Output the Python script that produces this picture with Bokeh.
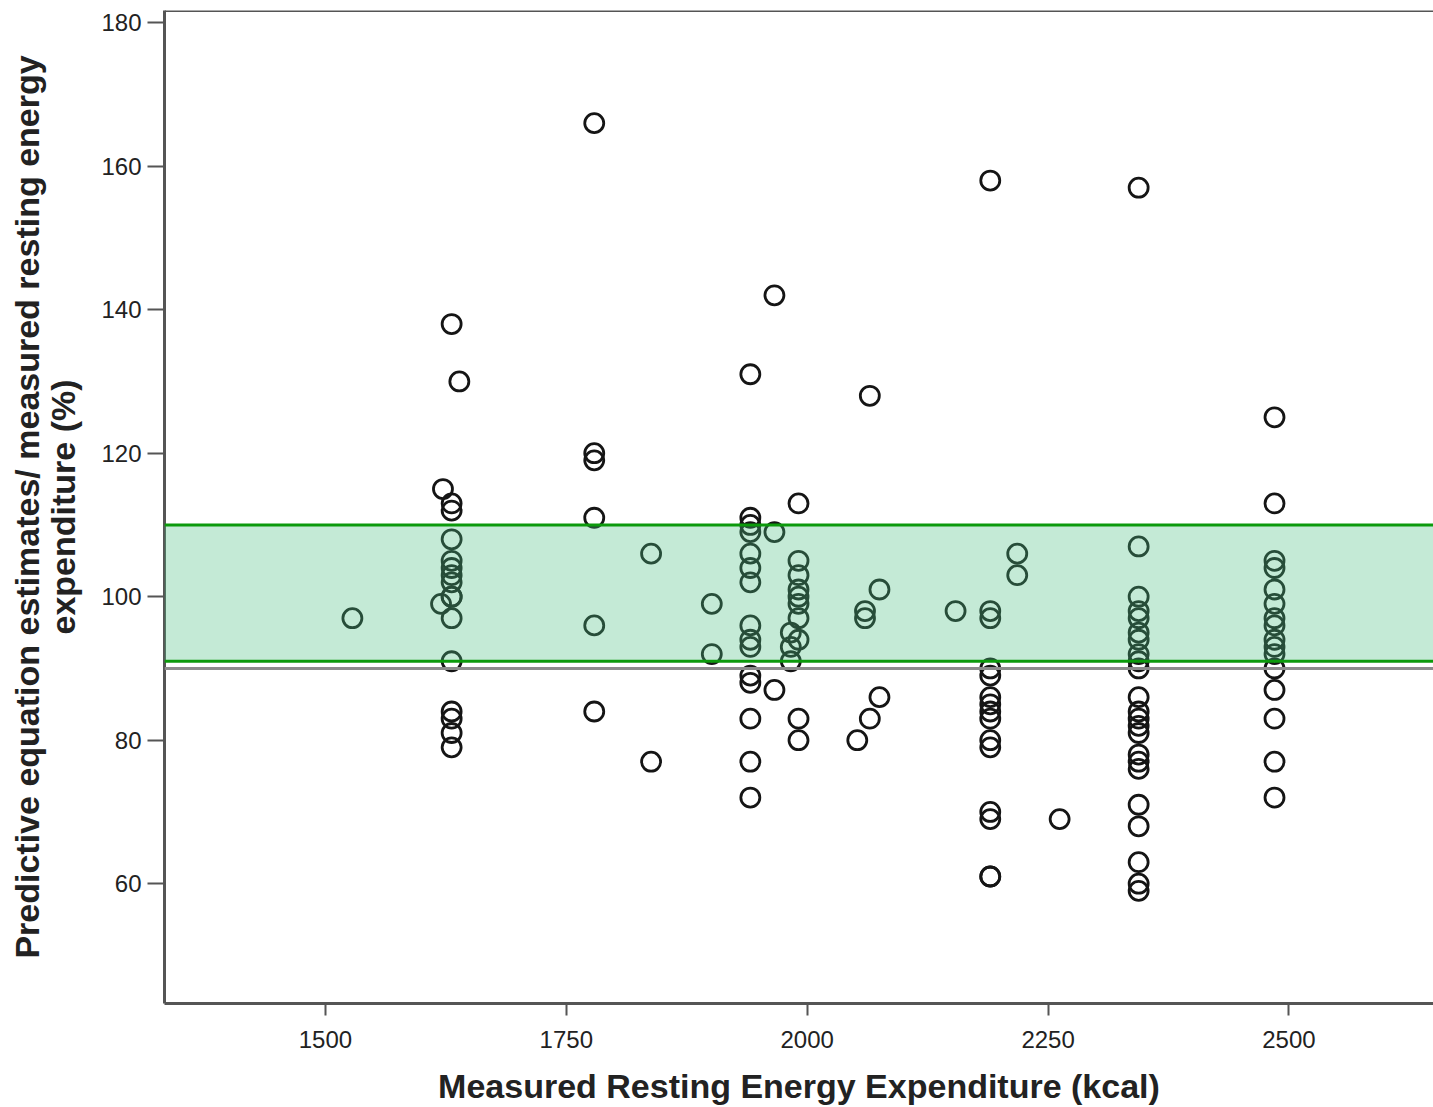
from bokeh.plotting import figure
from bokeh.models import Range1d, FixedTicker, BoxAnnotation, Span, ColumnDataSource
from bokeh.embed import file_html
from bokeh.resources import INLINE

# Measured REE (kcal) for each point
ree = ([1528, 1622, 1620] + [1631] * 16 + [1639]
       + [1779] * 6 + [1838] * 2 + [1901] * 2 + [1941] * 15 + [1966] * 3 + [1983] * 3
       + [1991] * 10 + [2052] + [2060] * 2 + [2065] * 2 + [2075] * 2 + [2154]
       + [2190] * 15 + [2218] * 2 + [2262] + [2344] * 23 + [2485] * 16)

# Predictive estimate / measured REE (%)
ratio = ([97, 115, 99]
         + [113, 112, 108, 105, 104, 103, 102, 100, 100, 97, 91, 84, 83, 81, 79, 138]
         + [130]
         + [166, 120, 119, 111, 96, 84]
         + [106, 77]
         + [99, 92]
         + [131, 111, 110, 109, 106, 104, 102, 96, 94, 93, 89, 88, 83, 77, 72]
         + [142, 109, 87]
         + [95, 93, 91]
         + [113, 105, 103, 101, 100, 99, 97, 94, 83, 80]
         + [80]
         + [98, 97]
         + [128, 83]
         + [101, 86]
         + [98]
         + [158, 98, 97, 90, 89, 86, 85, 84, 83, 80, 79, 70, 69, 61, 61]
         + [106, 103]
         + [69]
         + [157, 107, 100, 98, 97, 95, 94, 92, 91, 90, 86, 84, 83, 82, 81, 78, 77, 76, 71, 68, 63, 60, 59]
         + [125, 113, 105, 104, 101, 99, 97, 96, 94, 93, 92, 90, 87, 83, 77, 72])

x_ticks = [1500, 1750, 2000, 2250, 2500]
y_ticks = [60, 80, 100, 120, 140, 160, 180]
band_low, band_high = 91, 110
ref_line = 90
y_top = 181.7

FONT = "Liberation Sans"

p = figure(width=1433, height=1107, output_backend="svg", toolbar_location=None,
           x_range=Range1d(1333, 2650), y_range=Range1d(43.3, y_top),
           min_border_left=164, min_border_right=0, min_border_top=10, min_border_bottom=104)
p.background_fill_color = "white"
p.outline_line_color = None
p.grid.visible = False

src = ColumnDataSource(dict(x=ree, y=ratio))
p.scatter("x", "y", source=src, marker="circle", size=19, fill_color=None,
          line_color="#151515", line_width=2.8)

p.add_layout(Span(location=ref_line, dimension="width", line_color="#8c8c8c", line_width=3))
p.add_layout(BoxAnnotation(bottom=band_low, top=band_high, fill_color="#4cbf83", fill_alpha=0.33,
                           line_color=None))
p.add_layout(Span(location=band_low, dimension="width", line_color="#0c9a0c", line_width=3))
p.add_layout(Span(location=band_high, dimension="width", line_color="#0c9a0c", line_width=3))
p.add_layout(Span(location=y_top, dimension="width", line_color="#555555", line_width=3))

for ax in (p.xaxis[0], p.yaxis[0]):
    ax.axis_line_color = "#555555"
    ax.axis_line_width = 3
    ax.major_tick_line_color = "#555555"
    ax.major_tick_line_width = 2
    ax.minor_tick_line_color = None
    ax.major_tick_in = 0
    ax.major_label_text_font = FONT
    ax.major_label_text_font_size = "24px"
    ax.major_label_text_color = "#222222"
    ax.axis_label_text_font = FONT
    ax.axis_label_text_font_style = "bold"
    ax.axis_label_text_font_size = "34px"
    ax.axis_label_text_color = "#222222"
    ax.axis_label_text_line_height = 0.95

p.xaxis.ticker = FixedTicker(ticks=x_ticks)
p.yaxis.ticker = FixedTicker(ticks=y_ticks)
p.xaxis.major_tick_out = 12
p.yaxis.major_tick_out = 17
p.xaxis.major_label_standoff = 15
p.yaxis.major_label_standoff = 6
p.xaxis.axis_label = "Measured Resting Energy Expenditure (kcal)"
p.yaxis.axis_label = "Predictive equation estimates/ measured resting energy\nexpenditure (%)"
p.xaxis.axis_label_standoff = 16
p.yaxis.axis_label_standoff = 16

open("out.html", "w").write(file_html(p, INLINE))
